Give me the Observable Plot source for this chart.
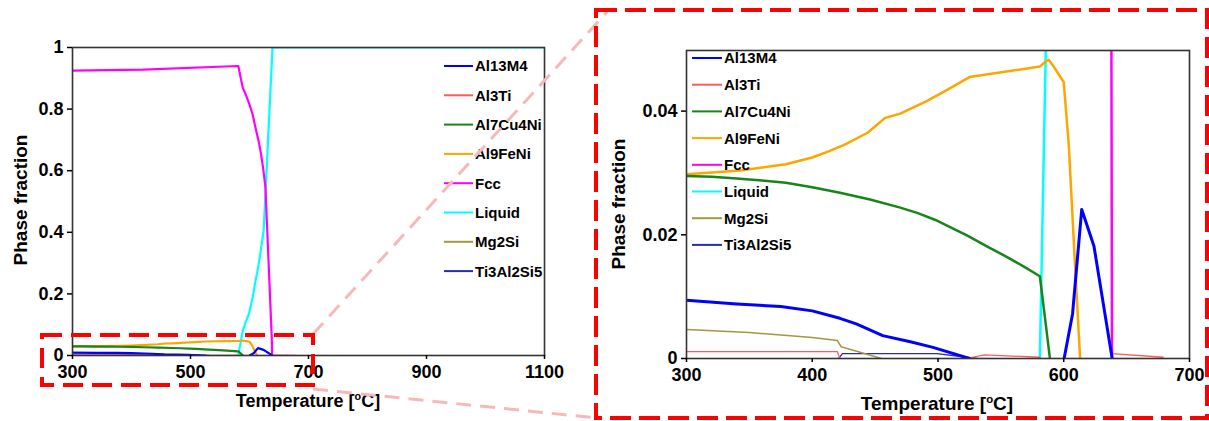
<!DOCTYPE html>
<html><head><meta charset="utf-8">
<script src="https://cdn.jsdelivr.net/npm/d3@7"></script>
<script src="https://cdn.jsdelivr.net/npm/@observablehq/plot@0.6"></script>
<style>
html,body{margin:0;padding:0;background:#fff;}
#wrap{position:relative;width:1209px;height:421px;overflow:hidden;font-family:"Liberation Sans",Arial,sans-serif;background:#fff;}
#wrap > svg{position:absolute;top:0;}
</style></head><body><div id="wrap"></div>
<script>
// ---- data (temperature °C, phase fraction) ----
const phases = ["Al13M4","Al3Ti","Al7Cu4Ni","Al9FeNi","Fcc","Liquid","Mg2Si","Ti3Al2Si5"];
const colors = ["#0000ff","#ff5a5a","#17851a","#ffa500","#ff00ff","#00ffff","#a09a3c","#2c2cae"];
const curves = ["linear","linear","linear","linear","linear","linear","linear","linear"];
const widthsZoom = [3, 1.3, 2.5, 2.5, 2.5, 2.5, 1.5, 1.3];
const widthsFull = [2.2, 1.3, 2.2, 2.2, 2.2, 2.2, 1.3, 1.3];

const al13m4 = [[300,0.0094],[340,0.0088],[375,0.0084],[400,0.0077],[422,0.0065],[435,0.0056],[444,0.0048],[456,0.0037],[478,0.0027],[496,0.0018],[525,0],[560,NaN],[600.3,0],[607,0.0072],[614.3,0.0241],[624,0.0182],[638.5,0]];
const al3ti = [[300,0.0011],[420,0.0011],[422,0],[470,NaN],[525,0.0001],[537,0.0006],[581,0.0002],[610,NaN],[638.5,0.0008],[679,0.0002]];
const al7cu4ni = [[300,0.0295],[320,0.0294],[340,0.0291],[360,0.0288],[379,0.0284],[400,0.0277],[422,0.0268],[446,0.0257],[470,0.0244],[484,0.0235],[498,0.0224],[510,0.0212],[523,0.0199],[540,0.0180],[555,0.0164],[568,0.0149],[581,0.0133],[585,0.0067],[589,0]];
const al9feni = [[300,0.0298],[343,0.0304],[379,0.0314],[400,0.0325],[413,0.0335],[425,0.0345],[444,0.0365],[458,0.0389],[470,0.0396],[491,0.0416],[508,0.0435],[525,0.0455],[581,0.0472],[585,0.0479],[588,0.0483],[592,0.0472],[600,0.0447],[604,0.0345],[609,0.0150],[613,0]];
const fcc = [[300,0.925],[420,0.928],[581,0.940],[588.6,0.869],[593,0.850],[599,0.820],[605,0.785],[610,0.741],[615,0.700],[618.6,0.665],[623,0.610],[627,0.546],[630,0.41],[637.9,0.05],[638.4,0]];
const liquid = [[581,0],[585.7,0.05],[588.6,0.08],[593,0.105],[599,0.135],[605,0.185],[610,0.24],[615,0.29],[619,0.34],[624,0.405],[639,1],[1100,1]];
const mg2si = [[300,0.0047],[350,0.0042],[400,0.0034],[420,0.0029],[423,0.0019],[438,0.0010],[455,0]];
const ti3al2si5 = [[421,0],[424,0.0008],[499,0.0008],[523,0.0002],[531,0]];
const series = [al13m4, al3ti, al7cu4ni, al9feni, fcc, liquid, mg2si, ti3al2si5];

const xTicksFull = [300,500,700,900,1100];
const yTicksFull = [0,0.2,0.4,0.6,0.8,1];
const xTicksZoom = [300,400,500,600,700];
const yTicksZoom = [0,0.02,0.04];

const rows = phases.flatMap((p,i) => series[i].map(([t,v]) => ({phase:p, t, v})));

function lineMarks(widths){
  return phases.map((p,i) => Plot.line(rows.filter(d => d.phase === p), {x:"t", y:"v", stroke: colors[i], strokeWidth: widths[i], curve: curves[i], clip: true})).reverse();
}
const baseStyle = {fontFamily:"'Liberation Sans', Arial, sans-serif", fontSize:"18px", fontWeight:"bold", color:"#000", background:"transparent", overflow:"visible"};

const left = Plot.plot({
  width: 590, height: 421,
  marginLeft: 72, marginRight: 46, marginTop: 47, marginBottom: 66,
  x: {domain:[300,1100]}, y: {domain:[0,1]},
  style: baseStyle,
  marks: [
    ...lineMarks(widthsFull),
    Plot.frame({stroke:"#333", strokeWidth:1.6}),
    Plot.axisX({ticks: xTicksFull, tickFormat: d => String(d), tickSize:4, tickPadding:6, label:null, fontSize:18, strokeWidth:1.5}),
    Plot.axisY({ticks: yTicksFull, tickFormat: d => String(d), tickSize:5, tickPadding:4, label:null, fontSize:18, strokeWidth:1.5})
  ]
});
left.style.left = "0px";

const right = Plot.plot({
  width: 614, height: 421,
  marginLeft: 91, marginRight: 20, marginTop: 50, marginBottom: 63,
  x: {domain:[300,700]}, y: {domain:[0,0.0498]},
  style: baseStyle,
  marks: [
    ...lineMarks(widthsZoom),
    Plot.frame({stroke:"#333", strokeWidth:1.6}),
    Plot.axisX({ticks: xTicksZoom, tickFormat: d => String(d), tickSize:4, tickPadding:6, label:null, fontSize:18, strokeWidth:1.5}),
    Plot.axisY({ticks: yTicksZoom, tickFormat: d => String(d), tickSize:5, tickPadding:4, label:null, fontSize:18, strokeWidth:1.5})
  ]
});
right.style.left = "595px";

const wrap = document.getElementById("wrap");
wrap.appendChild(left);
wrap.appendChild(right);

// ---- overlay: legends, axis titles, zoom annotation ----
const ov = d3.select(wrap).append("svg")
  .attr("width", 1209).attr("height", 421)
  .style("left","0px").style("pointer-events","none")
  .style("font-family","'Liberation Sans', Arial, sans-serif").style("font-weight","bold");

function legend(x0, x1, y0, dy, size){
  const g = ov.append("g");
  phases.forEach((p,i) => {
    const y = y0 + i*dy;
    g.append("line").attr("x1",x0).attr("x2",x1).attr("y1",y).attr("y2",y).attr("stroke",colors[i]).attr("stroke-width",2);
    g.append("text").attr("x",x1+2).attr("y",y).attr("dy","0.36em").attr("font-size",size).attr("fill","#000").text(p);
  });
}
legend(444, 473, 66, 29.3, 15);
legend(692, 722, 58, 26.7, 15);

function ylab(x, y, size){
  ov.append("text").attr("transform",`translate(${x},${y}) rotate(-90)`).attr("text-anchor","middle")
    .attr("font-size",size).attr("fill","#000").text("Phase fraction");
}
ylab(27, 200, 19);
ylab(625, 204, 19);
function xlab(x, y, size){
  const t = ov.append("text").attr("x",x).attr("y",y).attr("text-anchor","middle").attr("font-size",size).attr("fill","#000");
  t.append("tspan").text("Temperature [");
  t.append("tspan").attr("font-size", size*0.6).attr("dy", -size*0.38).text("o");
  t.append("tspan").attr("dy", size*0.38).text("C]");
}
xlab(308, 407, 18);
xlab(937, 410, 19);

// connector lines
const pink = "#f6b8b8";
ov.append("line").attr("x1",313).attr("y1",334).attr("x2",607).attr("y2",12).attr("stroke",pink).attr("stroke-width",3).attr("stroke-dasharray","15 9");
ov.append("line").attr("x1",313).attr("y1",389).attr("x2",597).attr("y2",418).attr("stroke",pink).attr("stroke-width",3).attr("stroke-dasharray","15 9");
// dashed rectangles
ov.append("rect").attr("x",42).attr("y",335).attr("width",271).attr("height",50).attr("fill","none").attr("stroke","#ff0000").attr("stroke-width",4).attr("stroke-dasharray","20 9");
ov.append("rect").attr("x",596).attr("y",10).attr("width",611).attr("height",408).attr("fill","none").attr("stroke","#ff0000").attr("stroke-width",4).attr("stroke-dasharray","21 8");
</script></body></html>
